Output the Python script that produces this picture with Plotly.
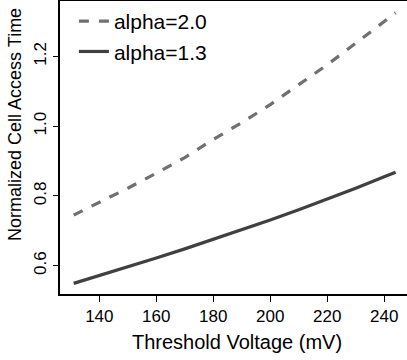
import plotly.graph_objects as go

voltage = [131, 140, 150, 160, 170, 180, 190, 200, 210, 220, 230, 240, 244]
alpha_20 = [0.745, 0.781, 0.822, 0.865, 0.910, 0.962, 1.010, 1.062, 1.118, 1.176, 1.238, 1.302, 1.325]
alpha_13 = [0.549, 0.571, 0.597, 0.622, 0.648, 0.675, 0.702, 0.731, 0.760, 0.790, 0.822, 0.855, 0.868]
series_names = ["alpha=2.0", "alpha=1.3"]
x_ticks = [140, 160, 180, 200, 220, 240]
y_ticks = [0.6, 0.8, 1.0, 1.2]
y_tick_text = ["0.6", "0.8", "1.0", "1.2"]

FONT = "Liberation Sans, Arial, Helvetica, sans-serif"

fig = go.Figure()
fig.add_trace(go.Scatter(x=voltage, y=alpha_20, mode="lines", name=series_names[0],
                         line=dict(color="#707070", width=3.2, dash="10px,10px")))
fig.add_trace(go.Scatter(x=voltage, y=alpha_13, mode="lines", name=series_names[1],
                         line=dict(color="#404040", width=3.2)))

fig.update_layout(
    width=407, height=360,
    margin=dict(l=60, r=0, t=1, b=66),
    paper_bgcolor="white", plot_bgcolor="white",
    font=dict(family=FONT, size=17, color="black"),
    showlegend=True,
    legend=dict(x=0.04, y=1.0, xanchor="left", yanchor="top",
                bgcolor="rgba(0,0,0,0)", font=dict(size=21), tracegroupgap=0),
    xaxis=dict(range=[126.2, 248.0], tickvals=x_ticks, ticks="outside", ticklen=6,
               tickwidth=1, tickcolor="black", showline=True, linecolor="black",
               linewidth=1.5, mirror=True, showgrid=False, zeroline=False,
               tickfont=dict(size=17)),
    yaxis=dict(range=[0.5186, 1.359], tickvals=y_ticks, ticktext=y_tick_text,
               ticks="outside", ticklen=5, tickwidth=1, tickcolor="black",
               showline=True, linecolor="black", linewidth=1.5, showgrid=False,
               zeroline=False, tickangle=-90, tickfont=dict(size=17)),
    annotations=[
        dict(text="Threshold Voltage (mV)", xref="paper", yref="paper",
             x=0.51, y=-0.163, xanchor="center", yanchor="middle", showarrow=False,
             font=dict(size=20)),
        dict(text="Normalized Cell Access Time", xref="paper", yref="paper",
             x=-0.128, y=0.579, xanchor="center", yanchor="middle", showarrow=False,
             textangle=-90, font=dict(size=18)),
    ],
)

fig.write_html("out.html")
